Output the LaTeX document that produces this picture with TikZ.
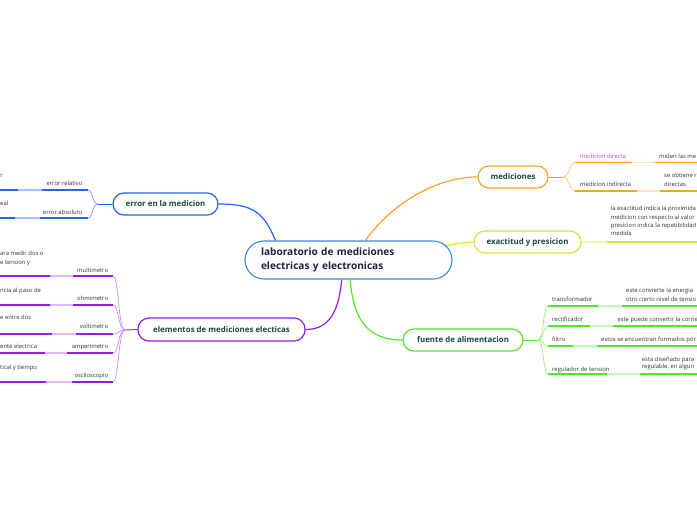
\documentclass[tikz,border=0pt]{standalone}
\usepackage{fontspec}
\setmainfont{Open Sans}
\usetikzlibrary{backgrounds}
\definecolor{bl}{RGB}{37,99,235}
\definecolor{blL}{RGB}{165,195,248}
\definecolor{pu}{RGB}{145,30,230}
\definecolor{puL}{RGB}{222,185,248}
\definecolor{orn}{RGB}{245,165,35}
\definecolor{ornL}{RGB}{250,226,185}
\definecolor{ye}{RGB}{205,235,55}
\definecolor{yeL}{RGB}{237,247,180}
\definecolor{gr}{RGB}{85,230,40}
\definecolor{grL}{RGB}{198,245,188}
\definecolor{cb}{RGB}{60,140,215}
\definecolor{tg}{RGB}{25,75,55}
\definecolor{tc}{RGB}{30,35,60}
\definecolor{tl}{RGB}{50,50,50}
\definecolor{pk}{RGB}{225,60,190}
\newcommand\uline[8]{%
  \coordinate (#1) at (#5,#4);
  \coordinate (#1a) at (#6,#4);
  \coordinate (#1b) at (#7,#4);
  \coordinate (#1c) at (#8,#4);
  \draw[dk=#2] (#1) -- (#1a);
  \draw[lt=#3] (#1a) -- (#1b);
  \draw[dk=#2] (#1b) -- (#1c);}
\begin{document}
\begin{tikzpicture}[x=1pt,y=-1pt,
  mainbox/.style={draw=cb,line width=1.1pt,rounded corners=19pt,fill=white,minimum height=38pt,text width=175pt,inner xsep=16pt,align=left,font=\fontsize{10.1}{14.3}\selectfont\bfseries,text=tc},
  topic/.style={draw=#1,line width=1.2pt,rounded corners=11pt,fill=white,minimum height=22pt,inner sep=0pt,font=\fontsize{7.9}{9}\selectfont\bfseries,text=tg},
  lbl/.style={font=\fontsize{5.9}{8.3}\selectfont,text=tl,inner sep=0pt},
  dk/.style={line width=1.9pt,draw=#1},
  lt/.style={line width=1.6pt,draw=#1},
  fan/.style={line width=0.8pt,draw=#1},
  link/.style={line width=1.2pt,draw=#1}]
\useasboundingbox (0,0) rectangle (697,520);

% central and topics
\node[mainbox] (c) at (348.5,260) {laboratorio de mediciones\\electricas y electronicas};
\node[topic=bl,minimum width=105pt] (err) at (165.5,204) {error en la medicion};
\node[topic=pu,minimum width=167pt,minimum height=23pt] (ele) at (221.5,329.5) {elementos de mediciones electicas};
\node[topic=orn,minimum width=70pt] (med) at (513,177) {mediciones};
\node[topic=ye,minimum width=107pt] (exa) at (527.5,242) {exactitud y presicion};
\node[topic=gr,minimum width=120pt] (fue) at (463,340) {fuente de alimentacion};

\begin{scope}[on background layer]
\draw[link=bl] (c.165) .. controls +(-12,-28) and +(35,0) .. (err.east);
\draw[link=orn] (c.49) .. controls +(22,-32) and +(-45,0) .. (med.west);
\draw[link=ye] ([xshift=-8pt]c.8) .. controls +(18,-2) and +(-10,0) .. (exa.west);
\draw[link=pu] (c.251) .. controls +(-3,30) and +(25,0) .. (ele.east);
\draw[link=gr] (c.275) .. controls +(3,40) and +(-35,0) .. (fue.west);
\end{scope}

% error branch
\coordinate (errF) at (98,204);
\draw[link=bl,line width=0.9pt] (err.west) -- (errF);
\uline{rel}{bl}{blL}{190}{88}{42}{18}{0}
\uline{abs}{bl}{blL}{218}{88}{40}{15}{0}
\draw[fan=bl!55] (errF) .. controls +(-6,0) and +(5,0) .. (rel);
\draw[fan=bl!55] (errF) .. controls +(-6,0) and +(5,0) .. (abs);
\node[lbl,anchor=base east] (relt) at (82.7,185.2) {error relativo};
\node[lbl,anchor=base east] (abst) at (82.7,214.8) {error absoluto};
\node[lbl,anchor=base west] (reld) at (0.3,177.5) {r};
\node[lbl,anchor=base west] (absd) at (0,205.5) {eal};

% elementos branch
\coordinate (eleF) at (125,330);
\draw[link=pu,line width=0.9pt] (ele.west) -- (eleF);
\uline{mul}{pu}{puL}{276}{113}{73}{50}{0}
\uline{ohm}{pu}{puL}{305}{113}{73}{50}{0}
\uline{vol}{pu}{puL}{334}{113}{76}{52}{0}
\uline{amp}{pu}{puL}{353}{113}{67}{45}{0}
\uline{osc}{pu}{puL}{382}{113}{72}{46}{0}
\foreach \n in {mul,ohm,vol,amp,osc}
  \draw[fan=pu!45] (eleF) .. controls +(-7,0) and +(6,0) .. (\n);
\node[lbl,anchor=base east] (mult) at (108.3,272) {multimetro};
\node[lbl,anchor=base east] (ohmt) at (108.3,300.2) {ohmimetro};
\node[lbl,anchor=base east] (volt) at (108.3,328.7) {voltimetro};
\node[lbl,anchor=base east] (ampt) at (108.3,348.7) {amperimetro};
\node[lbl,anchor=base east] (osct) at (108.3,377) {osciloscopio};
\node[lbl,anchor=base west] (muld1) at (0,255.8) {ara medir dos o};
\node[lbl,anchor=base west] (muld2) at (0,264.2) {e tension y};
\node[lbl,anchor=base west] (ohmd) at (0,292.5) {ncia al paso de};
\node[lbl,anchor=base west] (vold) at (0,319.8) {e entre dos};
\node[lbl,anchor=base west] (ampd) at (0,348.7) {ente electrica};
\node[lbl,anchor=base west] (oscd) at (0,369.2) {tical y tiempo};

% mediciones branch
\coordinate (medF) at (563,177);
\draw[link=orn,line width=0.9pt] (med.east) -- (medF);
\uline{dir}{orn}{ornL}{162.5}{575}{632}{655}{697}
\uline{ind}{orn}{ornL}{191}{575}{637}{660}{697}
\draw[fan=orn!55] (medF) .. controls +(6,0) and +(-5,0) .. (dir);
\draw[fan=orn!55] (medF) .. controls +(6,0) and +(-5,0) .. (ind);
\node[lbl,anchor=base west,text=pk] (dirt) at (580,158) {medicion directa};
\node[lbl,anchor=base west] (indt) at (580,186) {medicion indirecta};
\node[lbl,anchor=base west] (dird) at (659,158) {miden las me};
\node[lbl,anchor=base west] (indd1) at (664,177.5) {se obtiene r};
\node[lbl,anchor=base west] (indd2) at (664,186) {directas};

% exactitud branch
\coordinate (exaA) at (607,242);
\coordinate (exaB) at (697,242);
\draw[lt=yeL] (exa.east) -- (exaA);
\draw[dk=ye] (exaA) -- (exaB);
\node[lbl,anchor=base west] (exad1) at (610.7,210.8) {la exactitud indica la proximida};
\node[lbl,anchor=base west] (exad2) at (610.7,219.2) {medicion con respecto al valor};
\node[lbl,anchor=base west] (exad3) at (610.7,227.5) {presicion indica la repetibilidad};
\node[lbl,anchor=base west] (exad4) at (610.7,235.8) {medida};

% fuente branch
\coordinate (fueF) at (538,340);
\draw[link=gr,line width=0.9pt] (fue.east) -- (fueF);
\uline{tra}{gr}{grL}{306}{548}{598}{622}{697}
\uline{rec}{gr}{grL}{326}{548}{590}{613}{697}
\uline{fil}{gr}{grL}{346}{548}{573}{597}{697}
\uline{reg}{gr}{grL}{374}{548}{607}{640}{697}
\foreach \n in {tra,rec,fil,reg}
  \draw[fan=gr!55] (fueF) .. controls +(6,0) and +(-5,0) .. (\n);
\node[lbl,anchor=base west] (trat) at (552,301.5) {transformador};
\node[lbl,anchor=base west] (rect) at (552,321) {rectificador};
\node[lbl,anchor=base west] (filt) at (552,341.5) {filtro};
\node[lbl,anchor=base west] (regt) at (552,371.5) {regulador de tension};
\node[lbl,anchor=base west] (trad1) at (626,292.5) {este convierte la energia};
\node[lbl,anchor=base west] (trad2) at (626,301.5) {otro cierto nivel de tensio};
\node[lbl,anchor=base west] (recd) at (617.3,321) {este puede convertir la corrie};
\node[lbl,anchor=base west] (fild) at (601,341.5) {estos se encuentran formados por};
\node[lbl,anchor=base west] (regd1) at (641.7,361) {esta diseñado para};
\node[lbl,anchor=base west] (regd2) at (641.7,368.5) {regulable, en algun};
\end{tikzpicture}
\end{document}
